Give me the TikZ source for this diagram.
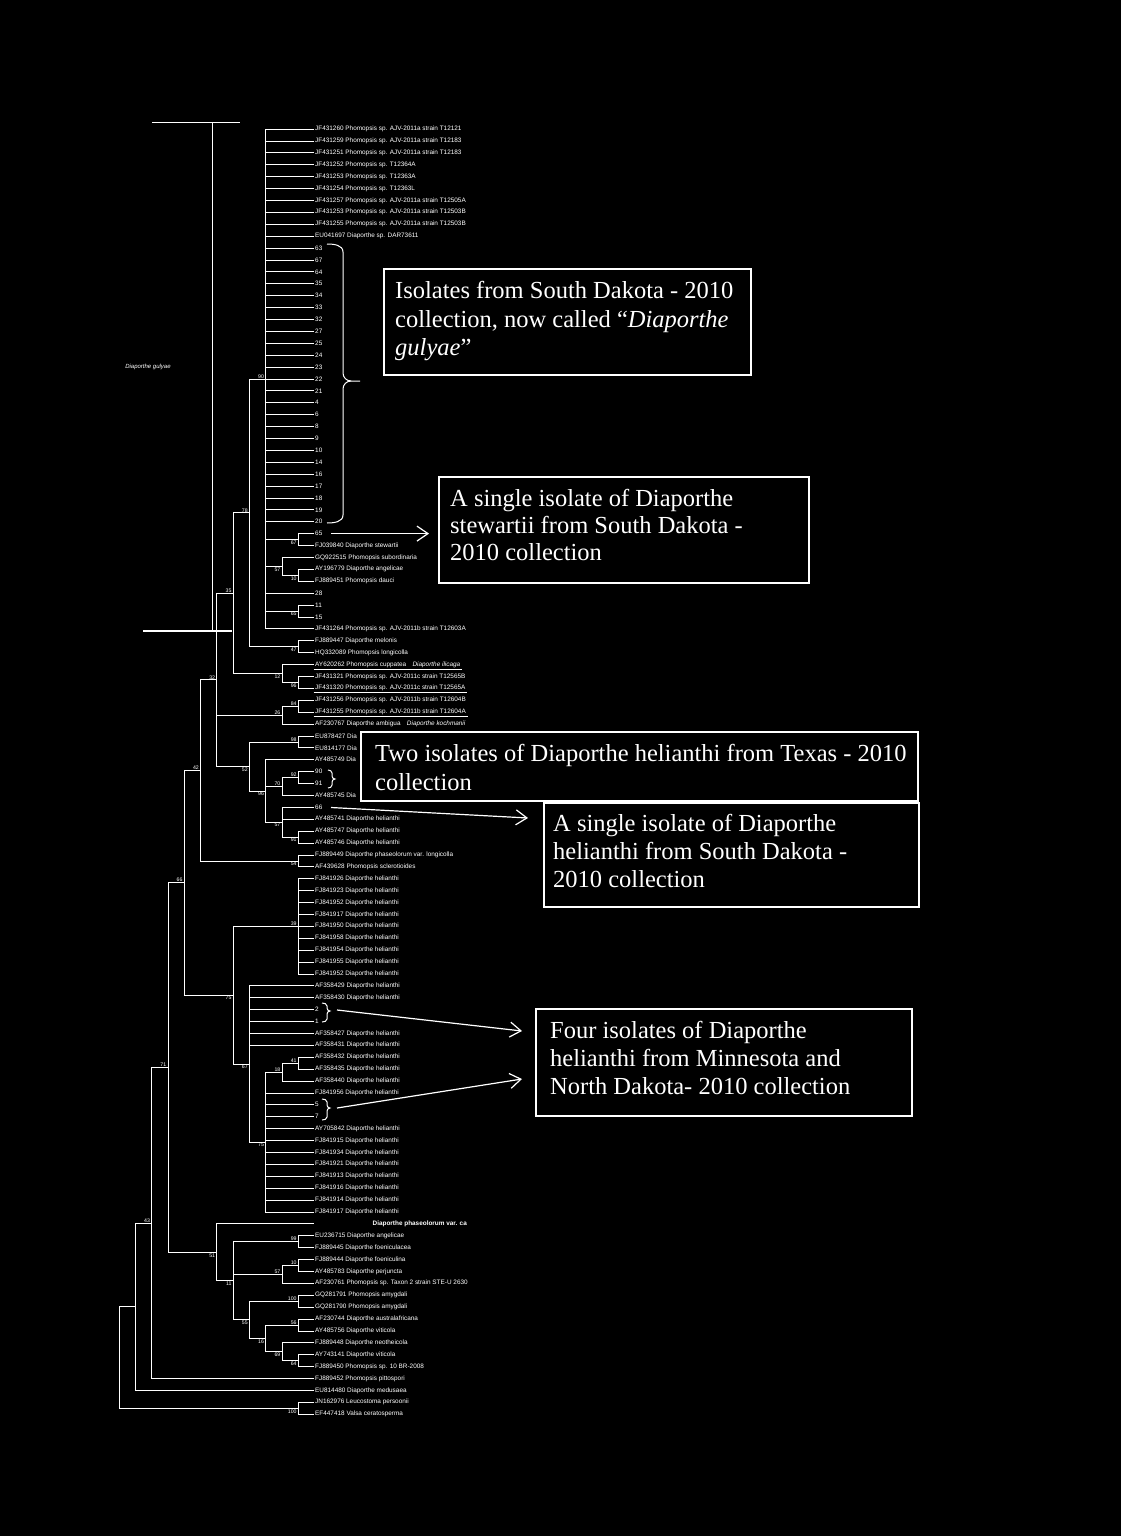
\documentclass[tikz,border=0pt]{standalone}
\usepackage{fontspec}
\setmainfont{Liberation Sans}
\newfontfamily\boxserif{Liberation Serif}
\usetikzlibrary{arrows.meta}
\begin{document}
\begin{tikzpicture}[x=1pt,y=-1pt,
 br/.style={draw=white,line width=0.7pt},
 lf/.style={text=white,anchor=west,inner xsep=1.5pt,inner ysep=0pt,font=\fontsize{6.4}{7}\selectfont},
 ba/.style={text=white,inner sep=0pt,anchor=south east,xshift=-1.5pt,yshift=0.5pt,font=\fontsize{5.2}{5.2}\selectfont},
 bb/.style={text=white,inner sep=0pt,anchor=north east,xshift=-1.5pt,yshift=-1pt,font=\fontsize{5.2}{5.2}\selectfont},
 frame/.style={draw=white,line width=1.8pt,fill=black,inner sep=0pt,anchor=north west},
 btxt/.style={text=white,anchor=base west,inner sep=0pt,font=\boxserif\fontsize{24.5}{28}\selectfont},
 arr/.style={draw=white,line width=1.2pt,-{Straight Barb[length=11pt,width=15pt]}},
 brc/.style={draw=white,line width=1pt}
]
\fill[black] (0,0) rectangle (1121,1536);
\useasboundingbox (0,0) rectangle (1121,1536);

% ---------- leaves ----------
\foreach \i/\t in {
1/JF431260 Phomopsis sp. AJV-2011a strain T12121,
2/JF431259 Phomopsis sp. AJV-2011a strain T12183,
3/JF431251 Phomopsis sp. AJV-2011a strain T12183,
4/JF431252 Phomopsis sp. T12364A,
5/JF431253 Phomopsis sp. T12363A,
6/JF431254 Phomopsis sp. T12363L,
7/JF431257 Phomopsis sp. AJV-2011a strain T12505A,
8/JF431253 Phomopsis sp. AJV-2011a strain T12503B,
9/JF431255 Phomopsis sp. AJV-2011a strain T12503B,
10/EU041697 Diaporthe sp. DAR73611,
11/63,12/67,13/64,14/35,15/34,16/33,17/32,18/27,19/25,20/24,21/23,22/22,23/21,
24/4,25/6,26/8,27/9,28/10,29/14,30/16,31/17,32/18,33/19,34/20,35/65,
36/FJ039840 Diaporthe stewartii,
37/GQ922515 Phomopsis subordinaria,
38/AY196779 Diaporthe angelicae,
39/FJ889451 Phomopsis dauci,
40/28,41/11,42/15,
43/JF431264 Phomopsis sp. AJV-2011b strain T12603A,
44/FJ889447 Diaporthe melonis,
45/HQ332089 Phomopsis longicolla,
46/{AY620262 Phomopsis cuppatea\quad\textit{Diaporthe ilicaga}},
47/JF431321 Phomopsis sp. AJV-2011c strain T12565B,
48/JF431320 Phomopsis sp. AJV-2011c strain T12565A,
49/JF431256 Phomopsis sp. AJV-2011b strain T12604B,
50/JF431255 Phomopsis sp. AJV-2011b strain T12604A,
51/{AF230767 Diaporthe ambigua\quad\textit{Diaporthe kochmanii}},
52/EU878427 Dia,
53/EU814177 Dia,
54/AY485749 Dia,
55/90,56/91,
57/AY485745 Dia,
58/66,
59/AY485741 Diaporthe helianthi,
60/AY485747 Diaporthe helianthi,
61/AY485746 Diaporthe helianthi,
62/FJ889449 Diaporthe phaseolorum var. longicolla,
63/AF439628 Phomopsis sclerotioides,
64/FJ841926 Diaporthe helianthi,
65/FJ841923 Diaporthe helianthi,
66/FJ841952 Diaporthe helianthi,
67/FJ841917 Diaporthe helianthi,
68/FJ841950 Diaporthe helianthi,
69/FJ841958 Diaporthe helianthi,
70/FJ841954 Diaporthe helianthi,
71/FJ841955 Diaporthe helianthi,
72/FJ841952 Diaporthe helianthi,
73/AF358429 Diaporthe helianthi,
74/AF358430 Diaporthe helianthi,
75/2,76/1,
77/AF358427 Diaporthe helianthi,
78/AF358431 Diaporthe helianthi,
79/AF358432 Diaporthe helianthi,
80/AF358435 Diaporthe helianthi,
81/AF358440 Diaporthe helianthi,
82/FJ841956 Diaporthe helianthi,
83/5,84/7,
85/AY705842 Diaporthe helianthi,
86/FJ841915 Diaporthe helianthi,
87/FJ841934 Diaporthe helianthi,
88/FJ841921 Diaporthe helianthi,
89/FJ841913 Diaporthe helianthi,
90/FJ841916 Diaporthe helianthi,
91/FJ841914 Diaporthe helianthi,
92/FJ841917 Diaporthe helianthi,
94/EU236715 Diaporthe angelicae,
95/FJ889445 Diaporthe foeniculacea,
96/FJ889444 Diaporthe foeniculina,
97/AY485783 Diaporthe perjuncta,
98/AF230761 Phomopsis sp. Taxon 2 strain STE-U 2630,
99/GQ281791 Phomopsis amygdali,
100/GQ281790 Phomopsis amygdali,
101/AF230744 Diaporthe australafricana,
102/AY485756 Diaporthe viticola,
103/FJ889448 Diaporthe neotheicola,
104/AY743141 Diaporthe viticola,
105/FJ889450 Phomopsis sp. 10 BR-2008,
106/FJ889452 Phomopsis pittospori,
107/EU814480 Diaporthe medusaea,
108/JN162976 Leucostoma persoonii,
109/EF447418 Valsa ceratosperma}
  \node[lf] (L\i) at (313.5,{129+(\i-1)*11.9}) {\t};
\coordinate (E93) at (313.5,1223.8);
\node[lf,font=\bfseries\fontsize{6.4}{7}\selectfont] (L93) at (371,1223.8) {Diaporthe phaseolorum var. ca};

% ---------- internal nodes ----------
\coordinate (P1) at (265.7,378.9);
\coordinate (N67a) at (298.3,539.55);
\coordinate (N10a) at (298.3,575.25);
\coordinate (N57a) at (282,566.3);
\coordinate (N65) at (298.3,610.95);
\coordinate (N47) at (298.3,646.65);
\coordinate (N78) at (249.4,512.8);
\coordinate (N96a) at (298.3,682.35);
\coordinate (N12) at (282,673.4);
\coordinate (N35) at (233.1,593.1);
\coordinate (N84) at (298.3,706.15);
\coordinate (N26) at (282,715.1);
\coordinate (N98) at (298.3,741.85);
\coordinate (N92) at (298.3,777.55);
\coordinate (N70) at (282,786.5);
\coordinate (N91) at (298.3,837.05);
\coordinate (N57b) at (282,822.2);
\coordinate (N96b) at (265.7,790.95);
\coordinate (N52) at (249.4,766.4);
\coordinate (N32) at (216.8,679.75);
\coordinate (N54) at (298.3,860.85);
\coordinate (N42) at (200.5,770.3);
\coordinate (N39) at (298.3,926.3);
\coordinate (N41) at (298.3,1063.15);
\coordinate (N18) at (282,1072.1);
\coordinate (P2) at (265.7,1142.0);
\coordinate (N67b) at (249.4,1063.9);
\coordinate (N75) at (233.1,995.1);
\coordinate (N66) at (184.2,882.7);
\coordinate (N99) at (298.3,1241.65);
\coordinate (N10c) at (298.3,1265.45);
\coordinate (N57c) at (282,1274.4);
\coordinate (N100) at (298.3,1301.15);
\coordinate (N56) at (298.3,1324.95);
\coordinate (N64) at (298.3,1360.65);
\coordinate (N69) at (282,1351.7);
\coordinate (N16) at (265.7,1338.3);
\coordinate (N55) at (249.4,1319.7);
\coordinate (N11) at (233.1,1280.7);
\coordinate (N51) at (216.8,1252.25);
\coordinate (N71) at (167.9,1067.5);
\coordinate (N43) at (151.6,1223.0);
\coordinate (X135) at (135.3,1306.7);
\coordinate (Out) at (298.3,1408.25);
\coordinate (Root) at (119,1357.5);

% ---------- branches to leaves ----------
\foreach \p/\c in {P1/1,P1/2,P1/3,P1/4,P1/5,P1/6,P1/7,P1/8,P1/9,P1/10,P1/11,P1/12,P1/13,P1/14,P1/15,
 P1/16,P1/17,P1/18,P1/19,P1/20,P1/21,P1/22,P1/23,P1/24,P1/25,P1/26,P1/27,P1/28,P1/29,P1/30,P1/31,
 P1/32,P1/33,P1/34,P1/40,P1/43,N67a/35,N67a/36,N57a/37,N10a/38,N10a/39,N65/41,N65/42,
 N47/44,N47/45,N12/46,N96a/47,N96a/48,N84/49,N84/50,N26/51,N98/52,N98/53,N96b/54,N92/55,N92/56,
 N70/57,N57b/58,N57b/59,N91/60,N91/61,N54/62,N54/63,N39/64,N39/65,N39/66,N39/67,N39/68,N39/69,
 N39/70,N39/71,N39/72,N67b/73,N67b/74,N67b/75,N67b/76,N67b/77,N67b/78,N41/79,N41/80,N18/81,
 P2/82,P2/83,P2/84,P2/85,P2/86,P2/87,P2/88,P2/89,P2/90,P2/91,P2/92,N99/94,N99/95,N10c/96,N10c/97,
 N57c/98,N100/99,N100/100,N56/101,N56/102,N69/103,N64/104,N64/105,N43/106,X135/107,Out/108,Out/109}
  \draw[br] (\p) |- (L\c.west);
\draw[br] (N51) |- (E93);

% ---------- branches between internal nodes ----------
\foreach \p/\c in {P1/N67a,P1/N57a,P1/N65,N57a/N10a,N78/P1,N78/N47,N35/N78,N35/N12,N12/N96a,
 N26/N84,N32/N35,N32/N26,N32/N52,N52/N98,N52/N96b,N96b/N70,N96b/N57b,N70/N92,N57b/N91,
 N42/N32,N42/N54,N66/N42,N66/N75,N75/N39,N75/N67b,N67b/P2,P2/N18,N18/N41,N71/N66,N71/N51,
 N51/N11,N11/N99,N11/N57c,N11/N55,N57c/N10c,N55/N100,N55/N16,N16/N56,N16/N69,N69/N64,
 N43/N71,X135/N43,Root/X135,Root/Out}
  \draw[br] (\p) |- (\c);

% ---------- bootstrap values ----------
\foreach \n/\v in {P1/90,N78/78,N35/35,N26/26,N84/84,N32/32,N98/98,N70/70,N92/92,N42/42,N39/39,
 N66/66,N41/41,N18/18,N71/71,N43/43,N99/99,N10c/10,N57c/57,N100/100,N56/56}
  \node[ba] (bs\n) at (\n) {\v};
\foreach \n/\v in {N67a/67,N57a/57,N10a/10,N65/65,N47/47,N12/12,N96a/96,N52/52,N96b/96,N57b/57,
 N91/91,N54/54,N75/75,N67b/67,P2/75,N51/51,N11/11,N55/55,N16/16,N69/69,N64/64,Out/100}
  \node[bb] (bs\n) at (\n) {\v};

% underlined rows
\foreach \r in {46,48,50}
  \draw[draw=white,line width=0.5pt] ([yshift=-1.2pt]L\r.south west) -- ([yshift=-1.2pt]L\r.south east);

% ---------- Diaporthe gulyae bracket ----------
\coordinate (gt) at (212,123);
\coordinate (gb) at (212,631);
\draw[white,line width=1pt] (152,123) -- (240,123);
\draw[white,line width=1pt] (gt) -- (gb);
\draw[white,line width=2pt] (143,631) -- (232,631);
\node[text=white,inner sep=0pt,font=\itshape\fontsize{6}{6}\selectfont] (gul) at (148,367) {Diaporthe gulyae};

% ---------- braces ----------
\draw[brc] (327,244) to[out=0,in=90] (343,252) -- (343,373) to[out=-90,in=180] (351,381) -- (360,381);
\draw[brc] (351,381) to[out=180,in=90] (343,389) -- (343,515) to[out=-90,in=0] (327,523);
\draw[brc] (328,770) to[out=0,in=90] (332,773) -- (332,776) to[out=-90,in=180] (335,779)
           to[out=180,in=90] (332,782) -- (332,785) to[out=-90,in=0] (328,788);
\draw[brc] (322,1003) to[out=0,in=90] (327,1006) -- (327,1008) to[out=-90,in=180] (330,1011)
           to[out=180,in=90] (327,1014) -- (327,1019) to[out=-90,in=0] (322,1022);
\draw[brc] (322,1099) to[out=0,in=90] (327,1102) -- (327,1105) to[out=-90,in=180] (330,1108)
           to[out=180,in=90] (327,1111) -- (327,1117) to[out=-90,in=0] (322,1120);

% ---------- arrows ----------
\coordinate (A65s) at (331,533.6);  \coordinate (A65e) at (429,533.6);
\coordinate (A66s) at (331,807.5);  \coordinate (A66e) at (528,818);
\coordinate (A21s) at (337,1010);   \coordinate (A21e) at (522,1031);
\coordinate (A57s) at (337,1108);   \coordinate (A57e) at (522,1079);
\draw[arr] (A65s) -- (A65e);
\draw[arr] (A66s) -- (A66e);
\draw[arr] (A21s) -- (A21e);
\draw[arr] (A57s) -- (A57e);

% ---------- annotation boxes ----------
\node[frame,minimum width=367pt,minimum height=106pt] (B1) at (383,268) {};
\node[btxt] (T1a) at (395,298) {Isolates from South Dakota - 2010};
\node[btxt] (T1b) at (395,327) {collection, now called “\textit{Diaporthe}};
\node[btxt] (T1c) at (395,355) {\textit{gulyae}”};

\node[frame,minimum width=370pt,minimum height=106pt] (B2) at (438,476) {};
\node[btxt] (T2a) at (450,506) {A single isolate of Diaporthe};
\node[btxt] (T2b) at (450,533) {stewartii from South Dakota -};
\node[btxt] (T2c) at (450,560) {2010 collection};

\node[frame,minimum width=557pt,minimum height=69pt] (B3) at (360,731) {};
\node[btxt] (T3a) at (375,761) {Two isolates of Diaporthe helianthi from Texas - 2010};
\node[btxt] (T3b) at (375,790) {collection};

\node[frame,minimum width=375pt,minimum height=104pt] (B4) at (543,802) {};
\node[btxt] (T4a) at (553,831) {A single isolate of Diaporthe};
\node[btxt] (T4b) at (553,859) {helianthi from South Dakota -};
\node[btxt] (T4c) at (553,887) {2010 collection};

\node[frame,minimum width=376pt,minimum height=107pt] (B5) at (535,1008) {};
\node[btxt] (T5a) at (550,1038) {Four isolates of Diaporthe};
\node[btxt] (T5b) at (550,1066) {helianthi from Minnesota and};
\node[btxt] (T5c) at (550,1094) {North Dakota- 2010 collection};
\end{tikzpicture}
\end{document}
